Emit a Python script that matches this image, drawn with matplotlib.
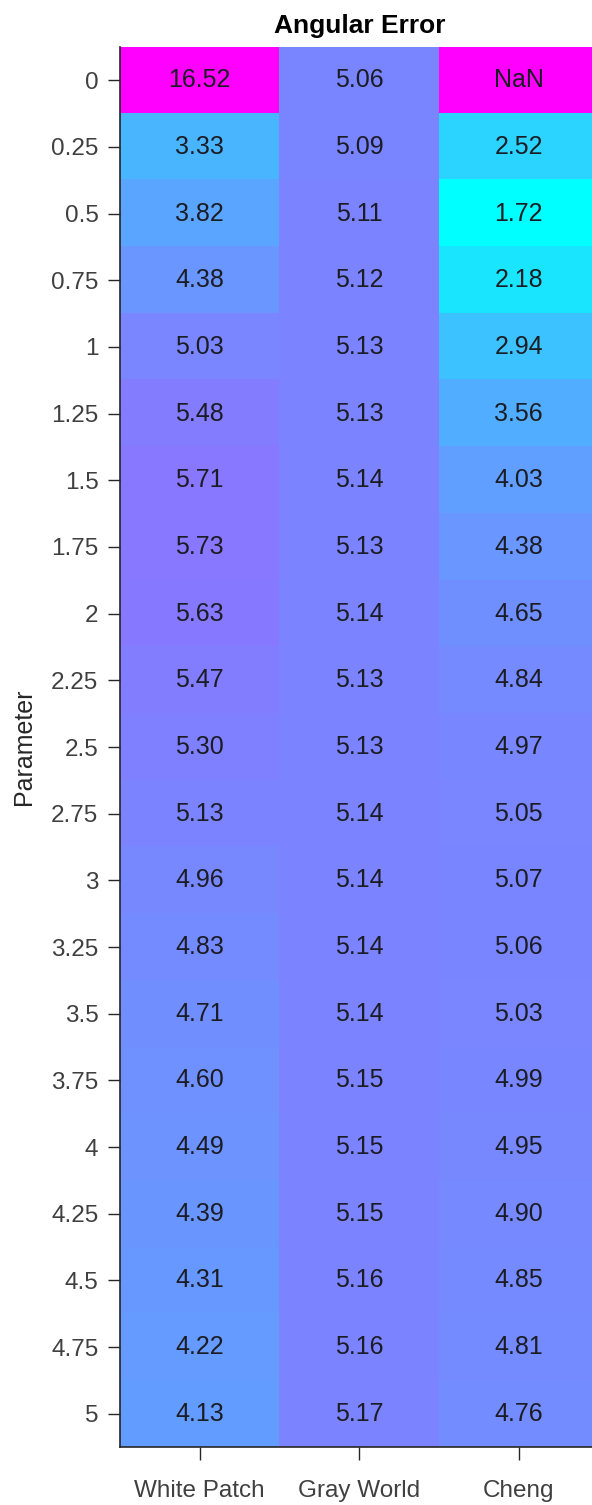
import numpy as np
import matplotlib.pyplot as plt
from matplotlib.colors import LogNorm

plt.rcParams['font.family'] = ['Liberation Sans', 'DejaVu Sans']

# data
methods = ['White Patch', 'Gray World', 'Cheng']
params = ['0', '0.25', '0.5', '0.75', '1', '1.25', '1.5', '1.75', '2', '2.25', '2.5',
          '2.75', '3', '3.25', '3.5', '3.75', '4', '4.25', '4.5', '4.75', '5']
white_patch = [16.52, 3.33, 3.82, 4.38, 5.03, 5.48, 5.71, 5.73, 5.63, 5.47, 5.30,
               5.13, 4.96, 4.83, 4.71, 4.60, 4.49, 4.39, 4.31, 4.22, 4.13]
gray_world = [5.06, 5.09, 5.11, 5.12, 5.13, 5.13, 5.14, 5.13, 5.14, 5.13, 5.13,
              5.14, 5.14, 5.14, 5.14, 5.15, 5.15, 5.15, 5.16, 5.16, 5.17]
cheng = [np.nan, 2.52, 1.72, 2.18, 2.94, 3.56, 4.03, 4.38, 4.65, 4.84, 4.97,
         5.05, 5.07, 5.06, 5.03, 4.99, 4.95, 4.90, 4.85, 4.81, 4.76]

Z = np.column_stack([white_patch, gray_world, cheng])

# colour follows log of the error, NaN shown as magenta
cmap = plt.get_cmap('cool').copy()
cmap.set_bad('#ff00ff')

fig = plt.figure(figsize=(5.92, 15.05), dpi=100)
ax = fig.add_axes([0.2027, 0.0385, 0.8083, 0.9303])
ax.imshow(Z, cmap=cmap, norm=LogNorm(vmin=np.nanmin(Z), vmax=np.nanmax(Z)),
          aspect='auto', interpolation='nearest')

for i in range(Z.shape[0]):
    for j in range(Z.shape[1]):
        v = Z[i, j]
        txt = 'NaN' if np.isnan(v) else '%.2f' % v
        ax.text(j, i, txt, ha='center', va='center', fontsize=18, color='#1c1c24')

ax.set_xticks(range(len(methods)))
ax.set_xticklabels(methods)
ax.set_yticks(range(len(params)))
ax.set_yticklabels(params)
ax.tick_params(axis='both', direction='out', width=1, colors='#262626',
               labelcolor='#404040', labelsize=17.5)
ax.tick_params(axis='y', length=8.5, pad=7)
ax.tick_params(axis='x', length=9.5, pad=14)
for s in ['top', 'right']:
    ax.spines[s].set_visible(False)
for s in ['left', 'bottom']:
    ax.spines[s].set_color('#262626')
    ax.spines[s].set_linewidth(1.2)

ax.set_ylabel('Parameter', fontsize=18, color='#262626')
ax.yaxis.set_label_coords(-0.175, 0.5)
ax.set_title('Angular Error', fontsize=19, fontweight='bold', color='#000000', pad=10)

fig.savefig('out.png', dpi=100)
